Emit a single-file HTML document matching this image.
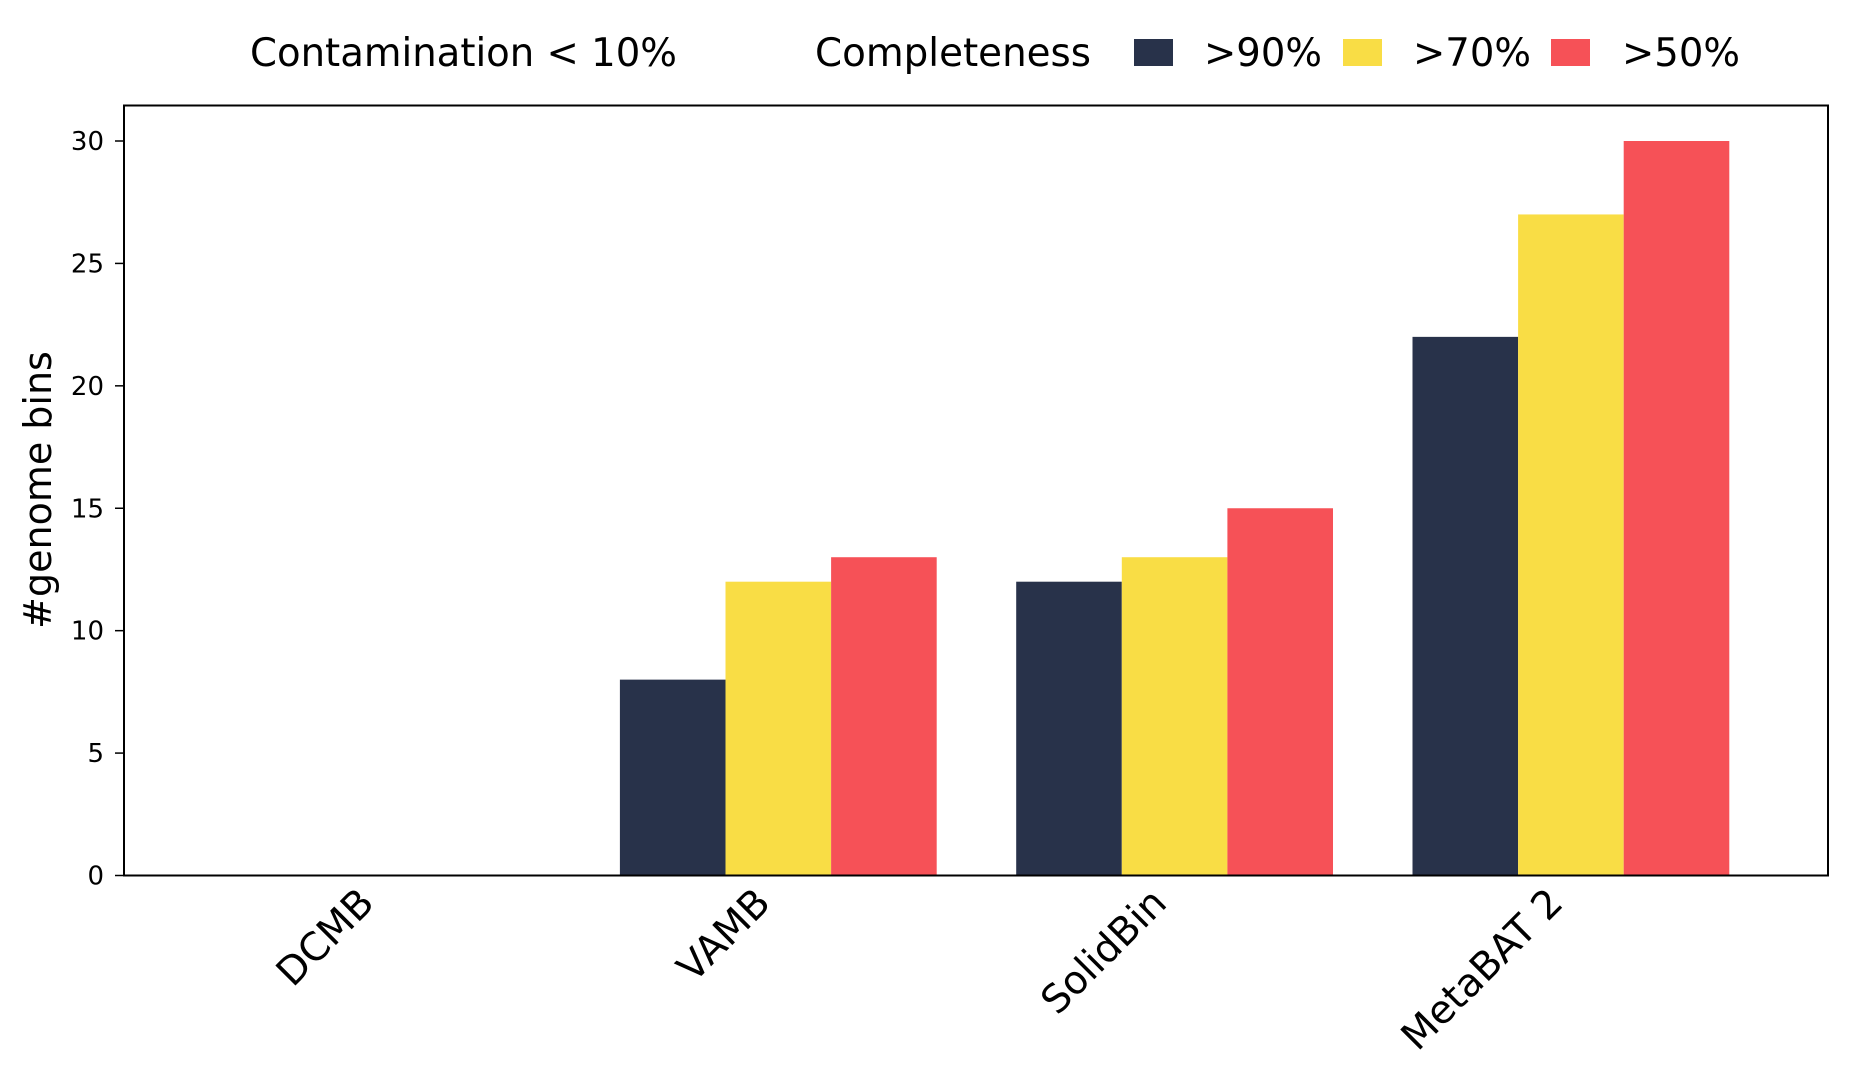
<!DOCTYPE html>
<html><head><meta charset="utf-8"><style>
html,body{margin:0;padding:0;background:#fff;}
svg{display:block;font-family:"DejaVu Sans","Liberation Sans",sans-serif;}
</style></head><body>
<svg id="chart" width="1849" height="1078" viewBox="0 0 1849 1078" xmlns="http://www.w3.org/2000/svg">
<g>
<text x="250" y="66" font-size="39" textLength="427" lengthAdjust="spacingAndGlyphs">Contamination &lt; 10%</text>
<text x="815" y="66" font-size="39" textLength="276" lengthAdjust="spacingAndGlyphs">Completeness</text>
<rect x="1134" y="39" width="39" height="27" fill="#28324a"/>
<text x="1204" y="66" font-size="39" textLength="118" lengthAdjust="spacingAndGlyphs">&gt;90%</text>
<rect x="1343" y="39" width="39" height="27" fill="#f9dd45"/>
<text x="1413" y="66" font-size="39" textLength="118" lengthAdjust="spacingAndGlyphs">&gt;70%</text>
<rect x="1551" y="39" width="39" height="27" fill="#f65157"/>
<text x="1622" y="66" font-size="39" textLength="118" lengthAdjust="spacingAndGlyphs">&gt;50%</text>
</g>
<g id="bars"></g>
<g id="yaxis"></g>
<g id="xaxis"></g>
<rect x="124" y="105.5" width="1704" height="770" fill="none" stroke="#000" stroke-width="2"/>
<text transform="translate(51,490) rotate(-90)" text-anchor="middle" font-size="38">#genome bins</text>
</svg>
<script>
const categories = ["DCMB", "VAMB", "SolidBin", "MetaBAT 2"];
const seriesNames = [">90%", ">70%", ">50%"];
const values90 = [0, 8, 12, 22];
const values70 = [0, 12, 13, 27];
const values50 = [0, 13, 15, 30];
const yTicks = [0, 5, 10, 15, 20, 25, 30];

const NS = "http://www.w3.org/2000/svg";
const colors = ["#28324a", "#f9dd45", "#f65157"];
const series = [values90, values70, values50];
const plotBottom = 875.5, pxPerUnit = (875.5 - 141) / 30;
function yScale(v){ return plotBottom - v * pxPerUnit; }
function xScale(i){ return 382 + 396.3 * i; }
const barW = 105.6;

const bars = document.getElementById("bars");
series.forEach((vals, s) => {
  vals.forEach((v, i) => {
    const r = document.createElementNS(NS, "rect");
    const x = xScale(i) + (s - 1) * barW - barW / 2;
    r.setAttribute("x", x);
    r.setAttribute("y", yScale(v));
    r.setAttribute("width", barW);
    r.setAttribute("height", plotBottom - yScale(v));
    r.setAttribute("fill", colors[s]);
    
    
    bars.appendChild(r);
  });
});

const yaxis = document.getElementById("yaxis");
yTicks.forEach(t => {
  const y = yScale(t);
  const l = document.createElementNS(NS, "line");
  l.setAttribute("x1", 115); l.setAttribute("x2", 124);
  l.setAttribute("y1", y); l.setAttribute("y2", y);
  l.setAttribute("stroke", "#000"); l.setAttribute("stroke-width", "1.5");
  
  
  yaxis.appendChild(l);
  const tx = document.createElementNS(NS, "text");
  tx.setAttribute("x", 104); tx.setAttribute("y", y + 9);
  tx.setAttribute("text-anchor", "end"); tx.setAttribute("font-size", "26");
  tx.textContent = t;
  
  
  yaxis.appendChild(tx);
});

const xaxis = document.getElementById("xaxis");
categories.forEach((c, i) => {
  const x = xScale(i);
  const tx = document.createElementNS(NS, "text");
  tx.setAttribute("transform", "translate(" + (x - 6) + ",905) rotate(-45)");
  tx.setAttribute("text-anchor", "end"); tx.setAttribute("font-size", "39");
  tx.textContent = c;
  
  
  xaxis.appendChild(tx);
});
</script>
</body></html>
